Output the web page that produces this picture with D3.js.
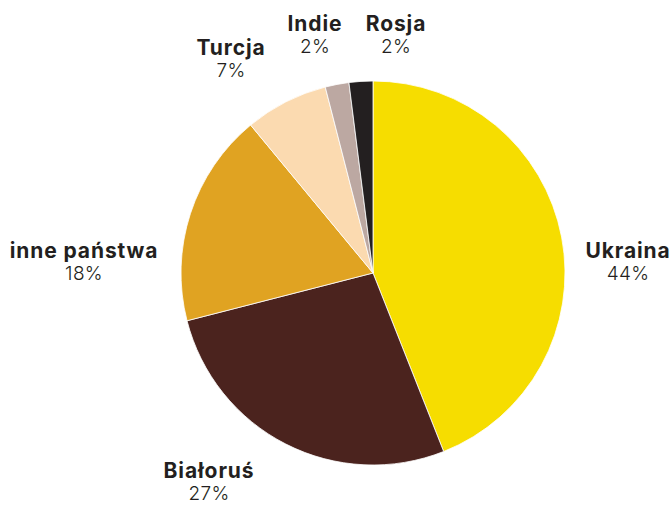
<!DOCTYPE html>
<html>
<head>
<meta charset="utf-8">
<script src="https://cdn.jsdelivr.net/npm/d3@7"></script>
<style>
  html, body { margin: 0; padding: 0; background: #fff; }
  svg { display: block; }
  text { font-family: "Inter", "Open Sans", sans-serif; fill: #231F20; }
</style>
</head>
<body>
<script>
// Udział państw (%)
const countries = ["Ukraina", "Białoruś", "inne państwa", "Turcja", "Indie", "Rosja"];
const shares = [44, 27, 18, 7, 2, 2];
const colors = ["#F6DD00", "#4B231E", "#E0A322", "#FBDAB0", "#BCA8A2", "#231F20"];

const width = 672, height = 506;
const cx = 373, cy = 273, radius = 192;

// baseline of the name line for each two-line label, text centred on x
const labelPlace = {
  "Ukraina":      { x: 628, y: 258 },
  "Białoruś":     { x: 209, y: 478 },
  "inne państwa": { x: 84,  y: 258 },
  "Turcja":       { x: 231, y: 55 },
  "Indie":        { x: 315, y: 31 },
  "Rosja":        { x: 396, y: 31 }
};

const data = countries.map((c, i) => ({ name: c, value: shares[i], color: colors[i] }));

const svg = d3.select("body").append("svg")
  .attr("width", width).attr("height", height);

const pie = d3.pie().value(d => d.value).sort(null);
const arc = d3.arc().innerRadius(0).outerRadius(radius);

const g = svg.append("g").attr("transform", `translate(${cx},${cy})`);

g.selectAll("path")
  .data(pie(data))
  .join("path")
  .attr("d", arc)
  .attr("fill", d => d.data.color)
  .attr("stroke", "#fff")
  .attr("stroke-width", 0.8);

const labels = svg.append("g").selectAll("g")
  .data(data)
  .join("g")
  .attr("transform", d => `translate(${labelPlace[d.name].x},${labelPlace[d.name].y})`);

labels.append("text")
  .attr("text-anchor", "middle")
  .style("font-size", "21px")
  .style("font-weight", "700")
  .style("letter-spacing", "0.9px")
  .text(d => d.name);

labels.append("text")
  .attr("text-anchor", "middle")
  .attr("y", 22)
  .style("font-size", "19px")
  .style("font-weight", "300")
  .style("letter-spacing", "0.3px")
  .text(d => d.value + "%");
</script>
</body>
</html>
